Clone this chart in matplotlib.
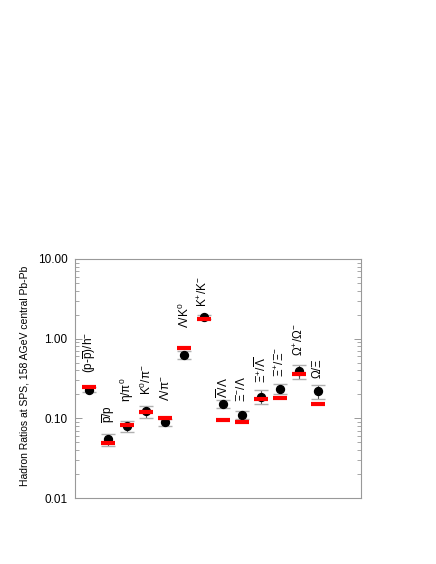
import matplotlib
matplotlib.use('Agg')
import matplotlib.pyplot as plt
import numpy as np
from matplotlib.ticker import LogLocator, FuncFormatter, NullFormatter

plt.rcParams['font.family'] = ['Liberation Sans', 'DejaVu Sans']
plt.rcParams['mathtext.fontset'] = 'custom'
plt.rcParams['mathtext.rm'] = 'Liberation Sans'
plt.rcParams['mathtext.it'] = 'Liberation Sans'
plt.rcParams['mathtext.bf'] = 'Liberation Sans:bold'

# ratio labels
labels = [r'(p-$\overline{\mathrm{p}}$)/h$^{-}$', r'$\overline{\mathrm{p}}$/p',
          r'η/π$^{0}$', r'K$^{0}$/π$^{-}$', r'Λ/π$^{-}$', r'Λ/K$^{0}$',
          r'K$^{+}$/K$^{-}$', r'$\overline{\mathrm{Λ}}$/Λ', r'Ξ$^{-}$/Λ',
          r'Ξ$^{+}$/$\overline{\mathrm{Λ}}$', r'Ξ$^{+}$/Ξ$^{-}$',
          r'Ω$^{+}$/Ω$^{-}$', r'Ω/Ξ']

# measured values (black) and errors
data = [0.226, 0.055, 0.081, 0.122, 0.090, 0.63, 1.88,
        0.150, 0.110, 0.187, 0.232, 0.39, 0.219]
err_hi = [0.249, 0.064, 0.092, 0.142, 0.097, 0.70, 1.98,
          0.168, 0.123, 0.226, 0.266, 0.47, 0.262]
err_lo = [0.211, 0.045, 0.068, 0.102, 0.081, 0.56, 1.78,
          0.133, 0.099, 0.150, 0.200, 0.307, 0.176]

# model values (red)
model = [0.249, 0.049, 0.082, 0.119, 0.100, 0.77, 1.76,
         0.094, 0.091, 0.176, 0.181, 0.362, 0.150]

# label gap above the point, in pixels
label_gap = [17, 16, 24, 16, 21, 27, 10, 6, 13, 14, 12, 15, 13]

x = np.arange(1, len(data) + 1)

fig = plt.figure(figsize=(4.36, 5.64), dpi=100)
ax = fig.add_axes([0.171, 0.117, 0.658, 0.424])

# error bars
ax.vlines(x, err_lo, err_hi, color='#555555', lw=0.8, zorder=2)
ax.plot(x, err_hi, ls='none', marker='_', ms=9.5, mew=1.0, color='#b0b0b0', zorder=2)
ax.plot(x, err_lo, ls='none', marker='_', ms=9.5, mew=1.0, color='#b0b0b0', zorder=2)

ax.plot(x, data, ls='none', marker='o', ms=5.7, color='black', zorder=3)
ax.plot(x, model, ls='none', marker='_', ms=9.5, mew=3.0, color='#ff0000', zorder=4)

for xi, yi, lab, gap in zip(x, data, labels, label_gap):
    ax.annotate(lab, (xi, yi), xytext=(0, gap * 0.72), textcoords='offset points',
                rotation=90, ha='center', va='bottom', fontsize=8.5)

ax.set_yscale('log')
ax.set_ylim(0.01, 10)
ax.set_xlim(0.24, 15.28)

ax.yaxis.set_major_locator(LogLocator(base=10))
ax.yaxis.set_minor_locator(LogLocator(base=10, subs=np.arange(2, 10)))
ax.yaxis.set_major_formatter(FuncFormatter(lambda v, p: '%.2f' % v))
ax.yaxis.set_minor_formatter(NullFormatter())
ax.tick_params(axis='y', which='both', direction='in', left=True, right=True,
               color='#999999', labelsize=8.5, pad=5)
ax.tick_params(axis='y', which='major', length=5, width=0.7)
ax.tick_params(axis='y', which='minor', length=3, width=0.6)
ax.set_xticks([])

for s in ax.spines.values():
    s.set_color('#999999')
    s.set_linewidth(0.8)

ax.set_ylabel('Hadron Ratios at SPS, 158 AGeV central Pb-Pb', fontsize=7.5)
ax.yaxis.set_label_coords(-0.158, 0.51)

fig.savefig('out.png', dpi=100)
